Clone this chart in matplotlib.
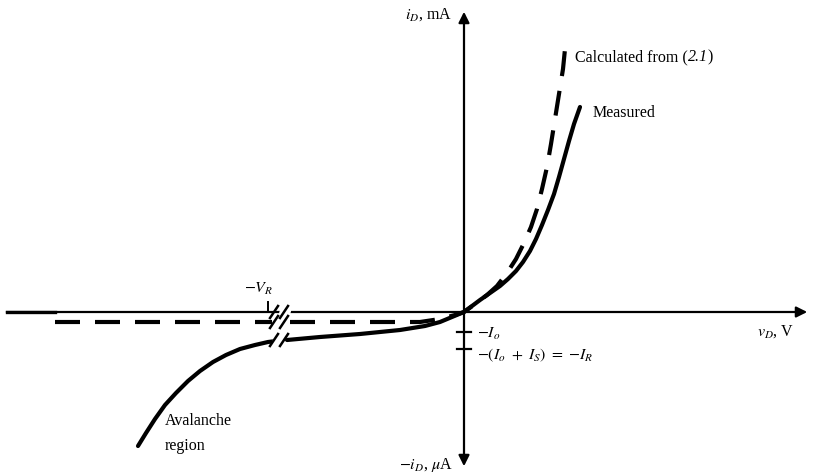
import numpy as np
import matplotlib
matplotlib.use('Agg')
from matplotlib import pyplot as plt

plt.rcParams['font.family'] = ['Liberation Serif', 'DejaVu Serif']
plt.rcParams['mathtext.fontset'] = 'stix'

# Curves (picture units, y grows downward)
# measured diode curve, reverse part left of the axis break
meas_left_x = [138, 146, 155, 165, 176, 188, 200, 213, 226, 240, 255, 268, 276]
meas_left_y = [447, 434, 420, 406, 394, 382, 372, 363, 356, 350, 346, 343, 342]
# measured, from the break through the origin and up
meas_right_x = [287, 320, 360, 400, 425, 440, 452, 464, 472, 480, 490, 500, 508, 516,
                523, 530, 536, 542, 548, 554, 559, 564, 569, 574, 580]
meas_right_y = [341, 338, 335, 331, 327, 323, 318, 313, 307, 301, 294, 287, 280, 272,
                263, 252, 240, 226, 211, 195, 178, 160, 142, 125, 108]
# calculated from (2.1), dashed
calc_left_x = [55, 272]
calc_left_y = [323, 323]
calc_right_x = [290, 380, 420, 440, 455, 464, 475, 487, 497, 507, 516, 524, 531, 537,
                542, 547, 551, 555, 559, 563, 565]
calc_right_y = [323, 323, 323, 320, 316, 313, 305, 296, 287, 274, 260, 244, 228, 210,
                190, 168, 145, 120, 95, 70, 50]

# axes of the diagram
origin = (464, 313)
x_end = (7, 810)
y_end = (10, 470)
break_x = 280
tick_io = 333
tick_ir = 350
tick_vr = 268

fig = plt.figure(figsize=(8.13, 4.77), dpi=100)
ax = fig.add_axes([0, 0, 1, 1])
ax.set_xlim(0, 813)
ax.set_ylim(477, 0)
ax.axis('off')

# horizontal and vertical axes with arrow heads
ax.plot([x_end[0], 55], [origin[1], origin[1]], color='black', lw=2.4)
ax.plot([x_end[0], x_end[1] - 8], [origin[1], origin[1]], color='black', lw=1.6)
ax.annotate('', xy=(x_end[1], origin[1]), xytext=(x_end[1] - 12, origin[1]),
            arrowprops=dict(arrowstyle='-|>', color='black', lw=1.6, mutation_scale=16))
ax.plot([origin[0], origin[0]], [y_end[0] + 8, y_end[1] - 8], color='black', lw=1.6)
ax.annotate('', xy=(origin[0], y_end[0]), xytext=(origin[0], y_end[0] + 12),
            arrowprops=dict(arrowstyle='-|>', color='black', lw=1.6, mutation_scale=16))
ax.annotate('', xy=(origin[0], y_end[1]), xytext=(origin[0], y_end[1] - 12),
            arrowprops=dict(arrowstyle='-|>', color='black', lw=1.6, mutation_scale=16))

# curves
ax.plot(meas_left_x, meas_left_y, color='black', lw=3, solid_capstyle='round', solid_joinstyle='round')
ax.plot(meas_right_x, meas_right_y, color='black', lw=3, solid_capstyle='round', solid_joinstyle='round')
l1, = ax.plot(calc_left_x, calc_left_y, color='black', lw=3)
l2, = ax.plot(calc_right_x, calc_right_y, color='black', lw=3)
for l in (l1, l2):
    l.set_dashes((6, 3.6))

# axis break: white gap with slanted marks
gap = plt.Polygon([[break_x - 8, 347], [break_x + 2, 347], [break_x + 12, 305], [break_x + 2, 305]],
                  closed=True, color='white', zorder=3)
ax.add_patch(gap)
for dx in (-8, 2):
    for yc in (origin[1], 323, 341):
        ax.plot([break_x + dx - 2, break_x + dx + 6], [yc + 6, yc - 6], color='black', lw=1.8, zorder=4)

# tick marks
ax.plot([tick_vr, tick_vr], [origin[1], origin[1] - 10], color='black', lw=1.4)
for ty in (tick_io, tick_ir):
    ax.plot([origin[0] - 7, origin[0] + 7], [ty, ty], color='black', lw=1.6)

fs = 11.5
ax.text(452, 15, r'$i_D$, mA', ha='right', va='center', fontsize=fs)
ax.text(453, 465, r'$-i_D$, $\mu$A', ha='right', va='center', fontsize=fs)
ax.text(757, 332, r'$v_D$, V', ha='left', va='center', fontsize=fs)

# "Calculated from (2.1)" with the equation number in italics
t1 = ax.text(575, 57, 'Calculated from (', ha='left', va='center', fontsize=fs)
fig.canvas.draw()
bb = t1.get_window_extent().transformed(ax.transData.inverted())
t2 = ax.text(bb.x1, 57, '2.1', ha='left', va='center', fontsize=fs, style='italic')
fig.canvas.draw()
bb = t2.get_window_extent().transformed(ax.transData.inverted())
ax.text(bb.x1, 57, ')', ha='left', va='center', fontsize=fs)

ax.text(593, 113, 'Measured', ha='left', va='center', fontsize=fs)
ax.text(259, 289, r'$-V_R$', ha='center', va='center', fontsize=fs)
ax.text(477, 334, r'$-I_o$', ha='left', va='center', fontsize=fs)
ax.text(477, 355, r'$-(I_o\ +\ I_S)\ =\ {-}I_R$', ha='left', va='center', fontsize=fs)
ax.text(165, 421, 'Avalanche', ha='left', va='center', fontsize=fs)
ax.text(165, 446, 'region', ha='left', va='center', fontsize=fs)

fig.savefig('out.png', dpi=100)
